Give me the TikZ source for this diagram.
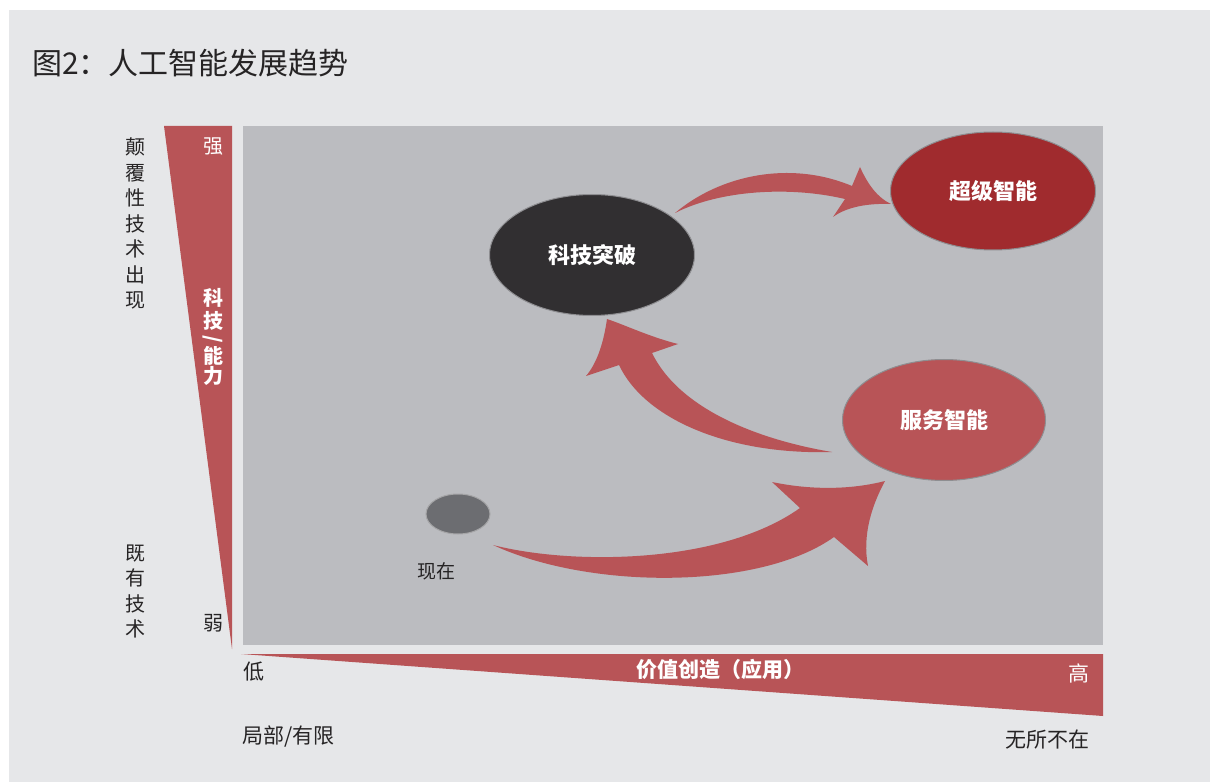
\documentclass[tikz,border=0pt]{standalone}
\usepackage{fontspec}
\setmainfont{Noto Sans CJK SC}
\usetikzlibrary{shapes.geometric}
\definecolor{panelc}{HTML}{E6E7E9}
\definecolor{plotc}{HTML}{BBBCC0}
\definecolor{redc}{HTML}{B85457}
\definecolor{darkc}{HTML}{312F31}
\definecolor{superc}{HTML}{A02B2E}
\definecolor{nowc}{HTML}{6C6D71}
\definecolor{textc}{HTML}{262425}
\definecolor{edgec}{HTML}{8E8E91}
\newcommand\myfs[1]{\fontsize{#1}{#1}\selectfont}
\begin{document}
\begin{tikzpicture}[x=1pt,y=-1pt,
  lbl/.style={text=textc, inner sep=0, font=\myfs{21}},
  wlbl/.style={text=white, inner sep=0, font=\myfs{20}\bfseries},
  vlbl/.style={text=textc, inner sep=0, align=center, font=\fontsize{20}{25.5}\selectfont},
  ell/.style={ellipse, draw=edgec, line width=1pt, inner sep=0, text=white, font=\myfs{22}\bfseries},
  arrowfill/.style={fill=redc}]
\useasboundingbox (0,0) rectangle (1210,783);
\fill[white] (0,0) rectangle (1210,783);
\fill[panelc] (9,10) rectangle (1210,782);
% title
\node[text=textc, inner sep=0, anchor=west, font=\myfs{30}] (title) at (32,63) {图2：人工智能发展趋势};
% plot area
\fill[plotc] (243,126) rectangle (1103,645);
% left wedge
\fill[redc] (164,126) -- (232,126) -- (232,649) -- cycle;
% bottom wedge
\fill[redc] (241,654) -- (1103,654) -- (1103,716) -- cycle;
% wedge labels
\node[text=white, inner sep=0, font=\myfs{20}] (strong) at (213,147) {强};
\node[lbl, font=\myfs{20}] (weak) at (213,623) {弱};
\node[wlbl] (v1) at (213,298) {科};
\node[wlbl] (v2) at (213,320.5) {技};
\node[wlbl, rotate=-90] (v3) at (213,339) {/};
\node[wlbl] (v4) at (213,356) {能};
\node[wlbl] (v5) at (213,375.5) {力};
\node[wlbl, font=\myfs{21}\bfseries] (xaxis) at (720,669) {价值创造（应用）};
\node[text=white, inner sep=0, font=\myfs{21}] (high) at (1079,673) {高};
\node[lbl] (low) at (254,672) {低};
\node[lbl, anchor=west] (local) at (242,737) {局部/有限};
\node[lbl, anchor=east] (every) at (1090,740) {无所不在};
% left side labels
\node[vlbl] (disrupt) at (135,223.5) {颠\\覆\\性\\技\\术\\出\\现};
\node[vlbl] (exist) at (135,591.5) {既\\有\\技\\术};
% arrows
\fill[arrowfill] (675,213) .. controls (720,175) and (790,160) .. (852,186)
  -- (860,167) .. controls (868,185) and (878,198) .. (891,204)
  .. controls (865,203) and (845,208) .. (833,217)
  -- (845,199) .. controls (790,186) and (720,190) .. (675,213) -- cycle;
\fill[arrowfill] (832,452) .. controls (760,440) and (680,410) .. (652,353)
  -- (678,344) .. controls (650,337) and (625,325) .. (607,319)
  .. controls (604,340) and (598,362) .. (586,376)
  -- (619,365) .. controls (645,420) and (730,455) .. (832,452) -- cycle;
\fill[arrowfill] (493,545) .. controls (570,565) and (720,565) .. (800,508)
  -- (772,482) .. controls (810,490) and (850,490) .. (885,481)
  .. controls (872,505) and (862,535) .. (868,566)
  -- (834,537) .. controls (760,590) and (590,590) .. (493,545) -- cycle;
% ellipses
\node[ell, fill=darkc, minimum width=205pt, minimum height=121pt] (tech) at (592,255) {科技突破};
\node[ell, fill=superc, minimum width=205pt, minimum height=118pt] (super) at (993,191) {超级智能};
\node[ell, fill=redc, minimum width=203pt, minimum height=121pt] (service) at (944,420) {服务智能};
\node[ellipse, draw=edgec!80, line width=1pt, fill=nowc, minimum width=64pt, minimum height=40pt, inner sep=0] (now) at (458,514) {};
\node[text=textc, inner sep=0, font=\myfs{19}] (nowlbl) at (436,571) {现在};
\end{tikzpicture}
\end{document}
